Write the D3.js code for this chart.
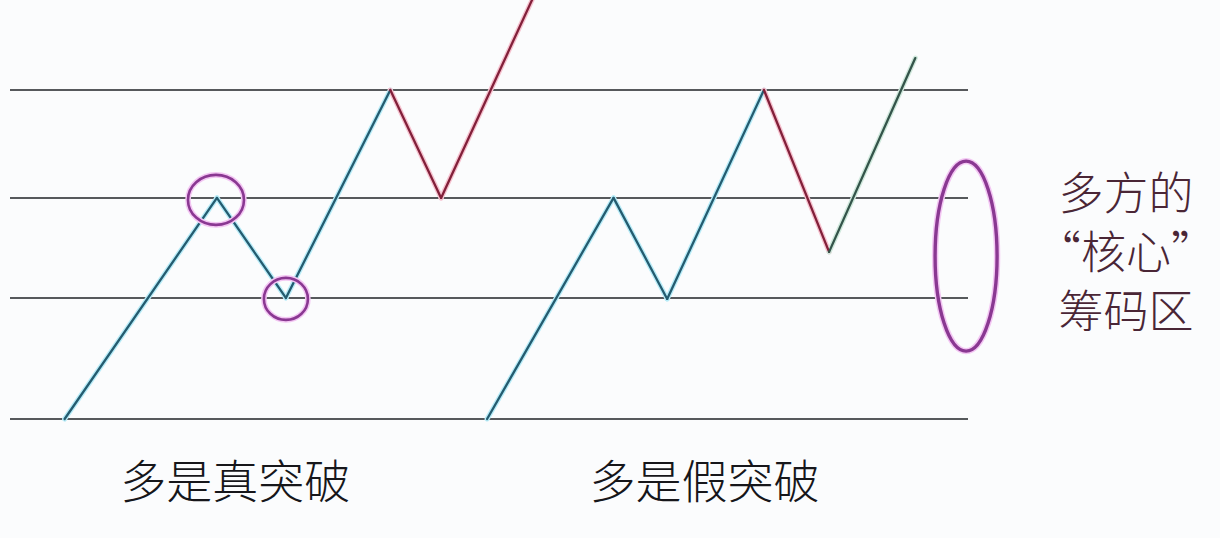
<!DOCTYPE html>
<html>
<head>
<meta charset="utf-8">
<script src="https://cdn.jsdelivr.net/npm/d3@7"></script>
<style>
  body { margin: 0; background: #fbfcfd; }
  svg { display: block; }
  text { font-family: "Noto Sans CJK SC", "Noto Sans", sans-serif; font-weight: 300; }
</style>
</head>
<body>
<svg id="chart"></svg>
<script>
// price levels of the four horizontal lines (bottom -> top)
const levels = [0, 36.8, 67.2, 100];

// left path: "多是真突破"
const truePath = [[5.7, 0], [21.6, 67.2], [28.8, 36.8], [39.7, 100], [45.0, 67.2], [54.5, 127.4]];
const trueColors = ["teal", "teal", "teal", "red", "red"];

// right path: "多是假突破"
const falsePath = [[49.8, 0], [63.0, 67.2], [68.6, 36.5], [78.7, 100], [85.5, 50.8], [94.5, 109.7]];
const falseColors = ["teal", "teal", "teal", "red", "green"];

// marked turning points (x, price, rx, ry in px)
const marks = [[21.5, 66.6, 28, 25], [28.8, 36.5, 22, 21]];
const zone = [99.8, 49.5, 31, 95];

const labels = [["多是真突破", 23.5], ["多是假突破", 72.5]];
const sideText = ["多方的", "“核心”", "筹码区"];

const width = 1220, height = 538;
const svg = d3.select("#chart").attr("width", width).attr("height", height);

const x = d3.scaleLinear().domain([0, 100]).range([10, 968]);
const y = d3.scaleLinear().domain([0, 100]).range([419, 90]);

const colors = {
    teal: { line: "#245c70", glow: "#b8ecf8" },
    red: { line: "#82203a", glow: "#f6c2cf" },
    green: { line: "#34544a", glow: "#cfe8dc" }
};

// horizontal levels
svg.append("g").selectAll("line")
    .data(levels)
    .enter().append("line")
    .attr("x1", x(0)).attr("x2", x(100))
    .attr("y1", d => y(d)).attr("y2", d => y(d))
    .attr("stroke", "#1f2326")
    .attr("stroke-width", 1.5);

function drawPath(points, segColors) {
    const segs = segColors.map((c, i) => ({ a: points[i], b: points[i + 1], c: c }));
    const g = svg.append("g");
    g.selectAll(".glow").data(segs).enter().append("line")
        .attr("x1", d => x(d.a[0])).attr("y1", d => y(d.a[1]))
        .attr("x2", d => x(d.b[0])).attr("y2", d => y(d.b[1]))
        .attr("stroke", d => colors[d.c].glow)
        .attr("stroke-width", 5)
        .attr("stroke-linecap", "round");
    g.selectAll(".seg").data(segs).enter().append("line")
        .attr("x1", d => x(d.a[0])).attr("y1", d => y(d.a[1]))
        .attr("x2", d => x(d.b[0])).attr("y2", d => y(d.b[1]))
        .attr("stroke", d => colors[d.c].line)
        .attr("stroke-width", 2.3)
        .attr("stroke-linecap", "round");
}
drawPath(truePath, trueColors);
drawPath(falsePath, falseColors);

// circles + zone ellipse
const rings = marks.map(m => ({ m: m, w: 2.6 })).concat([{ m: zone, w: 3.4 }]);
svg.append("g").selectAll("ellipse.glow").data(rings).enter().append("ellipse")
    .attr("cx", d => x(d.m[0])).attr("cy", d => y(d.m[1]))
    .attr("rx", d => d.m[2]).attr("ry", d => d.m[3])
    .attr("fill", "none").attr("stroke", "#f3c6f3").attr("stroke-width", d => d.w + 3);
svg.append("g").selectAll("ellipse.ring").data(rings).enter().append("ellipse")
    .attr("cx", d => x(d.m[0])).attr("cy", d => y(d.m[1]))
    .attr("rx", d => d.m[2]).attr("ry", d => d.m[3])
    .attr("fill", "none").attr("stroke", "#8a3892").attr("stroke-width", d => d.w);

// bottom labels
svg.append("g").selectAll("text").data(labels).enter().append("text")
    .attr("x", d => x(d[1])).attr("y", 478)
    .attr("text-anchor", "middle").attr("dominant-baseline", "central")
    .attr("font-size", 46).attr("fill", "#16161a")
    .text(d => d[0]);

// side note
svg.append("g").selectAll("text").data(sideText).enter().append("text")
    .attr("x", 1126).attr("y", (d, i) => 190 + i * 59)
    .attr("text-anchor", "middle").attr("dominant-baseline", "central")
    .attr("font-size", 45).attr("fill", "#4a2636")
    .text(d => d);
</script>
</body>
</html>
